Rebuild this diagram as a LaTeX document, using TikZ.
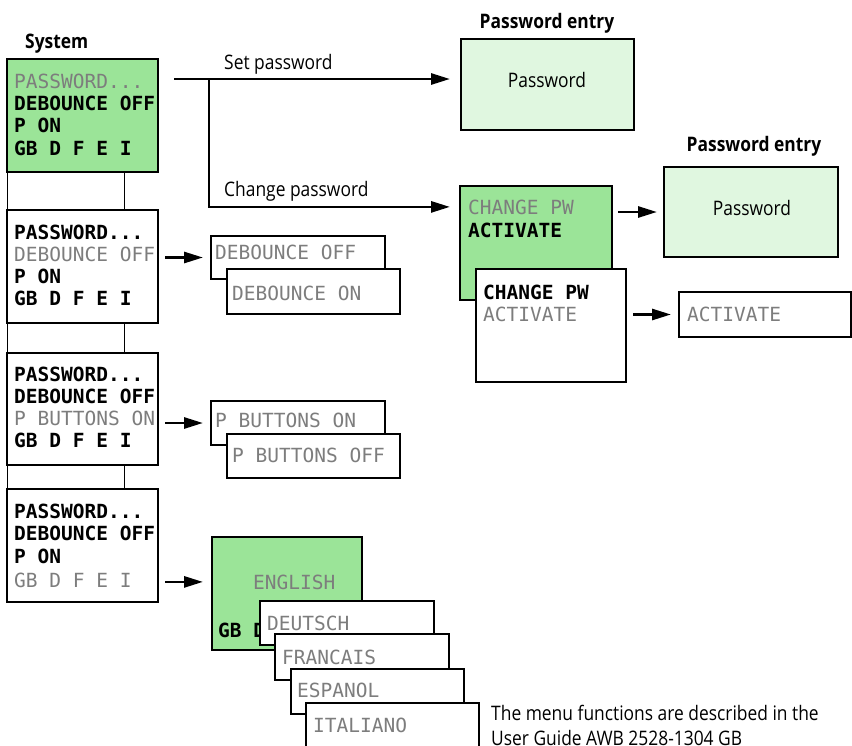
\documentclass[tikz,border=0pt]{standalone}
\usepackage{fontspec}
\setmainfont{Open Sans}[FakeStretch=0.87]
\newfontfamily\lcd{DejaVu Sans Mono}
\usetikzlibrary{arrows.meta}
\definecolor{lcdgreen}{RGB}{155,228,152}
\definecolor{pwgreen}{RGB}{224,247,224}
\definecolor{lcdgray}{RGB}{125,125,125}
\begin{document}
\begin{tikzpicture}[x=1pt,y=-1pt,
  box/.style={draw=black, line width=1.2pt, fill=white, anchor=north west, inner sep=0pt, outer sep=0pt},
  gbox/.style={box, fill=lcdgreen},
  pbox/.style={box, fill=pwgreen},
  lcdb/.style={font=\lcd\bfseries\fontsize{19.5}{20}\selectfont, text=black, anchor=base west, inner sep=0pt},
  lcdg/.style={font=\lcd\fontsize{19.5}{20}\selectfont, text=lcdgray, anchor=base west, inner sep=0pt},
  lab/.style={font=\fontsize{20}{24}\selectfont, anchor=base west, inner sep=0pt},
  ctr/.style={font=\fontsize{20}{24}\selectfont, anchor=base, inner sep=0pt},
  hdr/.style={font=\bfseries\fontsize{20}{24}\selectfont, anchor=base, inner sep=0pt},
  arr/.style={line width=2.8pt, -{Triangle[length=19pt,width=11pt]}},
  link/.style={line width=1pt},
]
\useasboundingbox (0,0) rectangle (852,745);
\clip (0,0) rectangle (852,745);

% ---------- System column ----------
\node[hdr, anchor=base west] (syslab) at (25,48) {System};
\node[gbox, minimum width=151pt, minimum height=113pt] (sys) at (7,59) {};
\node[lcdg] (s1) at (14,88) {PASSWORD...};
\node[lcdb] (s2) at (14,110) {DEBOUNCE OFF};
\node[lcdb] (s3) at (14,132) {P ON};
\node[lcdb] (s4) at (14,155) {GB D F E I};

\node[box, minimum width=151pt, minimum height=113pt] (b2) at (7,210) {};
\node[lcdb] (b2a) at (14,239) {PASSWORD...};
\node[lcdg] (b2b) at (14,261) {DEBOUNCE OFF};
\node[lcdb] (b2c) at (14,283) {P ON};
\node[lcdb] (b2d) at (14,305) {GB D F E I};

\node[box, minimum width=151pt, minimum height=112pt] (b3) at (7,353) {};
\node[lcdb] (b3a) at (14,381) {PASSWORD...};
\node[lcdb] (b3b) at (14,403) {DEBOUNCE OFF};
\node[lcdg] (b3c) at (14,425) {P BUTTONS ON};
\node[lcdb] (b3d) at (14,447) {GB D F E I};

\node[box, minimum width=151pt, minimum height=113pt] (b4) at (7,489) {};
\node[lcdb] (b4a) at (14,518) {PASSWORD...};
\node[lcdb] (b4b) at (14,540) {DEBOUNCE OFF};
\node[lcdb] (b4c) at (14,563) {P ON};
\node[lcdg] (b4d) at (14,587) {GB D F E I};

\draw[link] (sys.south west) -- (b2.north west);
\draw[link] ([xshift=117pt]sys.south west) -- ([xshift=117pt]b2.north west);
\draw[link] (b2.south west) -- (b3.north west);
\draw[link] ([xshift=117pt]b2.south west) -- ([xshift=117pt]b3.north west);
\draw[link] (b3.south west) -- (b4.north west);
\draw[link] ([xshift=117pt]b3.south west) -- ([xshift=117pt]b4.north west);

% ---------- Debounce ----------
\node[box, minimum width=174pt, minimum height=43pt] (deb1) at (211,236) {};
\node[lcdg] (deb1t) at (215,259) {DEBOUNCE OFF};
\node[box, minimum width=173pt, minimum height=45pt] (deb2) at (227,269) {};
\node[lcdg] (deb2t) at (232,300) {DEBOUNCE ON};
\draw[arr, shorten <=7pt, shorten >=8pt] (b2.east |- deb1.west) -- (deb1.west);

% ---------- P buttons ----------
\node[box, minimum width=174pt, minimum height=44pt] (pb1) at (211,401) {};
\node[lcdg] (pb1t) at (215,427) {P BUTTONS ON};
\node[box, minimum width=173pt, minimum height=44pt] (pb2) at (227,434) {};
\node[lcdg] (pb2t) at (232,462) {P BUTTONS OFF};
\draw[arr, shorten <=7pt, shorten >=8pt] (b3.east |- pb1.west) -- (pb1.west);

% ---------- Languages ----------
\node[gbox, minimum width=150pt, minimum height=113pt] (eng) at (212,537) {};
\node[lcdg] (engt) at (253,589) {ENGLISH};
\node[lcdb] (engl) at (218,637) {GB D};
\draw[arr, shorten <=7pt, shorten >=9pt] (b4.east |- engt.west) -- (eng.west |- engt.west);
\node[box, minimum width=174pt, minimum height=44pt] (deu) at (260,601) {};
\node[lcdg] (deut) at (267,630) {DEUTSCH};
\node[box, minimum width=174pt, minimum height=46pt] (fra) at (275,634) {};
\node[lcdg] (frat) at (282,664) {FRANCAIS};
\node[box, minimum width=173pt, minimum height=45pt] (esp) at (291,669) {};
\node[lcdg] (espt) at (297,697) {ESPANOL};
\node[box, minimum width=173pt, minimum height=60pt] (ita) at (306,703) {};
\node[lcdg] (itat) at (313,732) {ITALIANO};

% ---------- Password ----------
\node[hdr] (pwl1) at (547,28) {Password entry};
\node[pbox, minimum width=173pt, minimum height=91pt] (pw1) at (461,39) {};
\node[ctr] (pw1t) at (547,87) {Password};

\node[hdr] (pwl2) at (754,151) {Password entry};
\node[pbox, minimum width=174pt, minimum height=90pt] (pw2) at (664,167) {};
\node[ctr] (pw2t) at (752,215) {Password};

\node[gbox, minimum width=152pt, minimum height=114pt] (cpg) at (460,186) {};
\node[lcdg] (cpg1) at (468,214) {CHANGE PW};
\node[lcdb] (cpg2) at (468,237) {ACTIVATE};
\node[box, minimum width=150pt, minimum height=113pt] (cpw) at (476,269) {};
\node[lcdb] (cpw1) at (483,299) {CHANGE PW};
\node[lcdg] (cpw2) at (483,321) {ACTIVATE};
\node[box, minimum width=172pt, minimum height=45pt] (act) at (679,292) {};
\node[lcdg] (actt) at (687,321) {ACTIVATE};

\coordinate (s0) at (174,79);
\coordinate (j) at (209,79);
\draw[arr, shorten >=11pt] (s0) -- (pw1.west |- s0);
\draw[arr, shorten >=10pt] (j) |- (cpg.west |- cpg1.west);
\node[lab] (setl) at (224,69) {Set password};
\node[lab] (chgl) at (224,196) {Change password};
\draw[arr, shorten <=6pt, shorten >=7pt] (cpg.east |- pw2.west) -- (pw2.west);
\draw[arr, shorten <=7pt, shorten >=8pt] (cpw.east |- act.west) -- (act.west);

% ---------- Note ----------
\node[lab] (note1) at (491,720) {The menu functions are described in the};
\node[lab] (note2) at (491,745) {User Guide AWB 2528-1304 GB};
\end{tikzpicture}
\end{document}
